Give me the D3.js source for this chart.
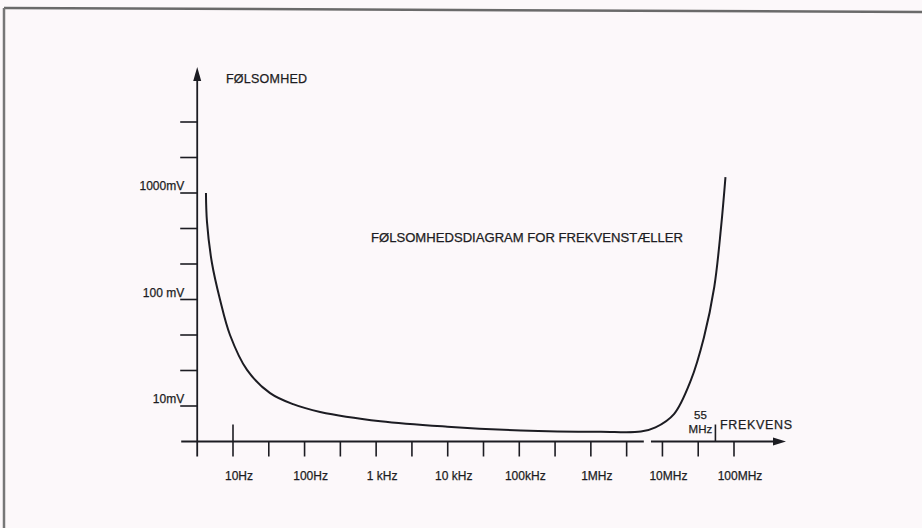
<!DOCTYPE html>
<html><head><meta charset="utf-8">
<script src="https://cdn.jsdelivr.net/npm/d3@7"></script>
<style>body{margin:0;background:#fcf8fa;} svg{display:block} text{font-family:"Liberation Sans",Arial,sans-serif;fill:#1c1c22;stroke:#1c1c22;stroke-width:0.25px;}</style>
</head><body><svg id="c" width="922" height="528"></svg>
<script>
// ---- data ----
const freqHz = [4.19, 4.33, 5.08, 6.58, 9.08, 15.7, 33, 69, 165, 1150, 9900, 105000, 1380000, 5000000, 8000000, 14500000, 25000000, 38000000, 53000000, 66000000, 76000000];
const sensMv = [1000, 535, 220, 100, 46.4, 21.8, 13.2, 10.4, 8.8, 7.2, 6.4, 5.9, 5.72, 5.75, 6.3, 8.4, 17.5, 44, 131, 480, 1410];
const xTickLabels = ["10Hz", "100Hz", "1 kHz", "10 kHz", "100kHz", "1MHz", "10MHz", "100MHz"];
const xTickValues = [1e1, 1e2, 1e3, 1e4, 1e5, 1e6, 1e7, 1e8];
const xMinorTicks = [10**1.5, 10**2.5, 10**3.5, 10**4.5, 10**5.5, 10**6.5, 10**7.5];
const yTickValues = [3,4,5,6,7,8,9,10,11].map(k => 10 ** (k / 3));
const yLabelled = [10, 100, 1000];
const yTickLabels = ["10mV", "100 mV", "1000mV"];
const markerFreqs = [10, 55e6];
const title = "FØLSOMHEDSDIAGRAM FOR FREKVENSTÆLLER";
const yTitle = "FØLSOMHED";
const xTitle = "FREKVENS";

// ---- layout ----
const svg = d3.select("#c");
const ink = "#1c1c22";
const x = d3.scaleLog().domain([10, 1e8]).range([233, 734]);
const y = d3.scaleLog().domain([10, 1000]).range([406, 193]);
const xOrigin = 10 ** 0.5, yOrigin = 10 ** (2 / 3);
const X0 = x(xOrigin), Y0 = y(yOrigin);

// frame
svg.append("line").attr("x1", 4).attr("y1", 8).attr("x2", 922).attr("y2", 12)
  .attr("stroke", "#6a6a6a").attr("stroke-width", 2.5);
svg.append("line").attr("x1", 4).attr("y1", 8).attr("x2", 4).attr("y2", 528)
  .attr("stroke", "#777").attr("stroke-width", 2.5);

const g = svg.append("g");

// y axis line + arrow
g.append("line").attr("x1", X0).attr("x2", X0).attr("y1", Y0 + 15).attr("y2", 76)
  .attr("stroke", ink).attr("stroke-width", 1.8);
g.append("path").attr("d", `M${X0},67 L${X0 - 4},81 L${X0 + 4},81 Z`).attr("fill", ink);

// y ticks
g.selectAll(".yt").data(yTickValues).join("line")
  .attr("x1", X0 - 17).attr("x2", X0).attr("y1", d => y(d)).attr("y2", d => y(d))
  .attr("stroke", ink).attr("stroke-width", 1.6);
g.selectAll(".yl").data(yLabelled).join("text")
  .attr("x", X0 - 13).attr("y", d => y(d) - 3)
  .attr("text-anchor", "end").attr("font-size", 12).text((d, i) => yTickLabels[i]);

// x axis line (with break) + arrow
const breakA = x(10 ** 6.74), breakB = x(10 ** 6.84);
g.append("line").attr("x1", X0 - 16).attr("x2", breakA).attr("y1", Y0).attr("y2", Y0)
  .attr("stroke", ink).attr("stroke-width", 1.8);
g.append("line").attr("x1", breakB).attr("x2", 778).attr("y1", Y0).attr("y2", Y0)
  .attr("stroke", ink).attr("stroke-width", 1.8);
g.append("path").attr("d", `M786,${Y0} L773,${Y0 - 4} L773,${Y0 + 4} Z`).attr("fill", ink);

// x ticks (down)
g.selectAll(".xt").data(xTickValues.concat(xMinorTicks)).join("line")
  .attr("x1", d => x(d)).attr("x2", d => x(d)).attr("y1", Y0).attr("y2", Y0 + 15)
  .attr("stroke", ink).attr("stroke-width", 1.6);
g.selectAll(".xl").data(xTickValues).join("text")
  .attr("x", d => x(d) + 6).attr("y", 480)
  .attr("text-anchor", "middle").attr("font-size", 12).text((d, i) => xTickLabels[i]);

// marker ticks (up)
g.selectAll(".mk").data(markerFreqs).join("line")
  .attr("x1", d => x(d)).attr("x2", d => x(d)).attr("y1", Y0).attr("y2", Y0 - 17)
  .attr("stroke", ink).attr("stroke-width", 1.6);
const m55 = x(markerFreqs[1]) - 15;
g.append("text").attr("x", m55).attr("y", 419).attr("text-anchor", "middle").attr("font-size", 11.5).text("55");
g.append("text").attr("x", m55).attr("y", 433).attr("text-anchor", "middle").attr("font-size", 11.5).text("MHz");

// titles
g.append("text").attr("x", 226).attr("y", 83).attr("textLength", 81).attr("lengthAdjust", "spacing")
  .attr("font-size", 12.5).text(yTitle);
g.append("text").attr("x", 720).attr("y", 429).attr("textLength", 72).attr("lengthAdjust", "spacing")
  .attr("font-size", 12.5).text(xTitle);
g.append("text").attr("x", 371).attr("y", 242).attr("textLength", 312).attr("lengthAdjust", "spacingAndGlyphs")
  .attr("font-size", 12.5).text(title);

// curve
const line = d3.line().x(d => x(d[0])).y(d => y(d[1])).curve(d3.curveCatmullRom.alpha(0.5));
g.append("path").datum(freqHz.map((f, i) => [f, sensMv[i]]))
  .attr("d", line).attr("fill", "none").attr("stroke", ink).attr("stroke-width", 2);
</script></body></html>
